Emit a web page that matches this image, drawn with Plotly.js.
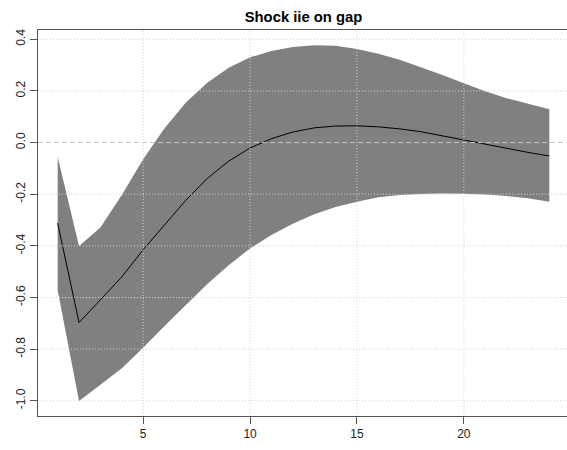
<!DOCTYPE html>
<html>
<head>
<meta charset="utf-8">
<script src="https://cdn.plot.ly/plotly-3.0.1.min.js"></script>
<style>
html, body { margin: 0; padding: 0; overflow: hidden; background: #fff; }
#chart { width: 580px; height: 450px; }
</style>
</head>
<body>
<div id="chart"></div>
<script>
// Horizon (periods)
const periods = [1,2,3,4,5,6,7,8,9,10,11,12,13,14,15,16,17,18,19,20,21,22,23,24];
// Median impulse response
const median = [-0.312,-0.697,-0.609,-0.520,-0.415,-0.318,-0.223,-0.139,-0.072,-0.021,0.015,0.041,0.057,0.064,0.065,0.061,0.053,0.042,0.026,0.011,-0.007,-0.023,-0.038,-0.052];
// Upper band
const upper = [-0.056,-0.401,-0.329,-0.203,-0.065,0.055,0.155,0.232,0.290,0.330,0.355,0.370,0.377,0.375,0.362,0.344,0.321,0.293,0.262,0.230,0.199,0.172,0.150,0.129];
// Lower band
const lower = [-0.572,-1.001,-0.938,-0.874,-0.795,-0.710,-0.627,-0.548,-0.475,-0.410,-0.358,-0.314,-0.278,-0.250,-0.229,-0.212,-0.203,-0.199,-0.197,-0.198,-0.201,-0.207,-0.216,-0.229];
// Tick values
const xTicks = [5,10,15,20];
const yTicks = [-1.0,-0.8,-0.6,-0.4,-0.2,0.0,0.2,0.4];

const bandX = periods.concat(periods.slice().reverse());
const bandY = upper.concat(lower.slice().reverse());

const traces = [
  { x: bandX, y: bandY, type: 'scatter', mode: 'lines', fill: 'toself',
    fillcolor: '#808080', line: { width: 0, color: '#808080' }, hoverinfo: 'skip', showlegend: false },
  { x: periods, y: median, type: 'scatter', mode: 'lines',
    line: { color: '#000000', width: 1 }, showlegend: false }
];

const gridColor = '#d3d3d3';
const shapes = [];
xTicks.forEach(v => shapes.push({ type: 'line', xref: 'x', yref: 'paper', x0: v, x1: v, y0: 0, y1: 1,
  line: { color: gridColor, width: 1, dash: '1px,2px' }, layer: 'above' }));
yTicks.forEach(v => { if (v !== 0) shapes.push({ type: 'line', xref: 'paper', yref: 'y', x0: 0, x1: 1, y0: v, y1: v,
  line: { color: gridColor, width: 1, dash: '1px,2px' }, layer: 'above' }); });
shapes.push({ type: 'line', xref: 'paper', yref: 'y', x0: 0, x1: 1, y0: 0, y1: 0,
  line: { color: '#c4c4c4', width: 1, dash: '5px,3px' }, layer: 'above' });

const axisFont = { family: 'Liberation Sans, Arial, sans-serif', size: 12, color: '#222' };

const layout = {
  width: 580, height: 450,
  margin: { l: 38, r: 11, t: 30, b: 34, pad: 0 },
  paper_bgcolor: '#ffffff', plot_bgcolor: '#ffffff',
  title: { text: '<b>Shock iie on gap</b>', x: 0.5, xref: 'paper', y: 1 - 16.5/450, yref: 'container', yanchor: 'middle',
    font: { family: 'Liberation Sans, Arial, sans-serif', size: 14.8, color: '#000' } },
  xaxis: {
    range: [0.08, 24.92], tickvals: xTicks, ticktext: xTicks.map(String),
    showgrid: false, zeroline: false, showline: true, mirror: true, linecolor: '#555', linewidth: 1,
    ticks: 'outside', ticklen: 7, tickcolor: '#555', tickfont: axisFont
  },
  yaxis: {
    range: [-1.059, 0.436], tickvals: yTicks, ticktext: yTicks.map(v => v.toFixed(1)),
    tickangle: -90,
    showgrid: false, zeroline: false, showline: true, mirror: true, linecolor: '#555', linewidth: 1,
    ticks: 'outside', ticklen: 7, tickcolor: '#555', tickfont: axisFont
  },
  shapes: shapes,
  showlegend: false
};

Plotly.newPlot('chart', traces, layout, { displayModeBar: false, staticPlot: true });
</script>
</body>
</html>
